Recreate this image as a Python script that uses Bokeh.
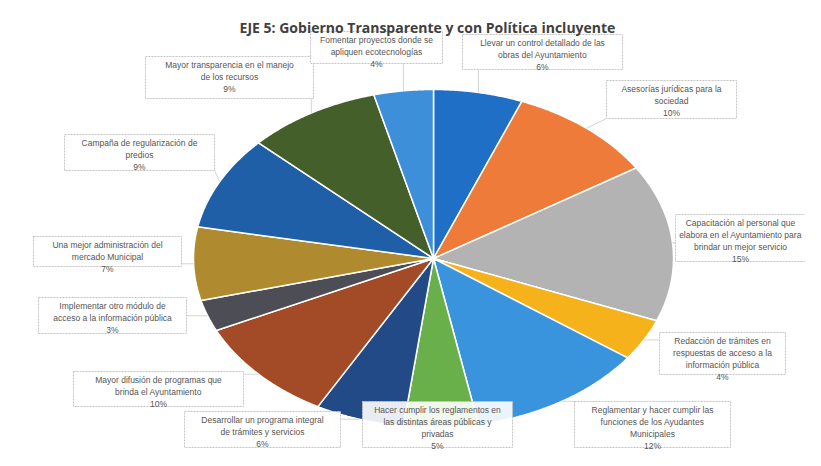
import numpy as np
from bokeh.plotting import figure
from bokeh.models import Range1d, ColumnDataSource
from bokeh.core.properties import value
from bokeh.embed import file_html
from bokeh.resources import INLINE

title = "EJE 5: Gobierno Transparente y con Política incluyente"

categories = [
    "Llevar un control detallado de las\nobras del Ayuntamiento",
    "Asesorías jurídicas para la\nsociedad",
    "Capacitación al personal que\nelabora en el Ayuntamiento para\nbrindar un mejor servicio",
    "Redacción de trámites en\nrespuestas de acceso a la\ninformación pública",
    "Reglamentar y hacer cumplir las\nfunciones de los Ayudantes\nMunicipales",
    "Hacer cumplir los reglamentos en\nlas distintas áreas públicas y\nprivadas",
    "Desarrollar un programa integral\nde trámites y servicios",
    "Mayor difusión de programas que\nbrinda el Ayuntamiento",
    "Implementar otro módulo de\nacceso a la información pública",
    "Una mejor administración del\nmercado Municipal",
    "Campaña de regularización de\npredios",
    "Mayor transparencia en el manejo\nde los recursos",
    "Fomentar proyectos donde se\napliquen ecotecnologías",
]
values = [6, 10, 15, 4, 12, 5, 6, 10, 3, 7, 9, 9, 4]
colors = ["#1F6FC6", "#EE7B3A", "#B3B3B3", "#F5B21A", "#3A93DD", "#6AB04A",
          "#214A86", "#A24B26", "#4D4D55", "#B08A2E", "#1F5FA8", "#455F2A",
          "#3C8FD8"]

# label box layout (picture pixel coordinates): centre x, top y, width, height
label_boxes = [
    (542, 34, 160, 35), (671, 80, 130, 38), (740, 214, 130, 47),
    (722, 332, 126, 42), (652, 401, 156, 46), (437, 401, 150, 46),
    (262, 411, 156, 36), (158, 371, 170, 35), (112, 297, 148, 36),
    (107, 236, 148, 30), (139, 134, 150, 36), (229, 56, 168, 42),
    (376, 31, 132, 32),
]

W, H = 805, 450
p = figure(width=W, height=H, output_backend="svg", toolbar_location=None,
           x_range=Range1d(0, W), y_range=Range1d(H, 0), min_border=0)
p.axis.visible = False
p.grid.visible = False
p.outline_line_color = None
p.background_fill_color = "white"
p.border_fill_color = "white"

cx, cy, rx, ry = 433, 258, 240, 169
total = float(sum(values))
fr = np.cumsum([0] + values) / total
xs, ys = [], []
for i in range(len(values)):
    t = np.linspace(fr[i], fr[i + 1], 80) * 2 * np.pi
    xs.append(np.concatenate([[cx], cx + rx * np.sin(t)]).tolist())
    ys.append(np.concatenate([[cy], cy - ry * np.cos(t)]).tolist())
p.patches(xs, ys, fill_color=colors, line_color="white", line_width=1.5)

# leader lines from slice edge towards label box
for i in range(len(values)):
    mid = (fr[i] + fr[i + 1]) / 2 * 2 * np.pi
    ex, ey = cx + rx * np.sin(mid), cy - ry * np.cos(mid)
    bx, bt, bw, bh = label_boxes[i]
    lx = min(max(ex, bx - bw / 2), bx + bw / 2)
    ly = min(max(ey, bt), bt + bh)
    p.line([ex, lx], [ey, ly], line_color="#c9c9c9", line_width=0.8)

# label boxes
p.rect(x=[b[0] for b in label_boxes], y=[b[1] + b[3] / 2 for b in label_boxes],
       width=[b[2] for b in label_boxes], height=[b[3] for b in label_boxes],
       fill_color="white", fill_alpha=0.9, line_color="#c4c4c4", line_width=1,
       line_dash="2 1")

texts = [f"{c}\n{round(v / total * 100):.0f}%" for c, v in zip(categories, values)]
src = ColumnDataSource(dict(x=[b[0] for b in label_boxes],
                            y=[b[1] + 3 for b in label_boxes], t=texts))
p.text(x="x", y="y", text="t", source=src, text_align="center",
       text_baseline="top", text_font=value("Liberation Sans"),
       text_font_size="8.5px", text_color="#555555", text_line_height=1.2)

p.text(x=[427], y=[27], text=[title], text_align="center", text_baseline="middle",
       text_font=value("Open Sans"), text_font_size="14px", text_font_style="bold",
       text_color="#404040")

open("out.html", "w").write(file_html(p, INLINE))
